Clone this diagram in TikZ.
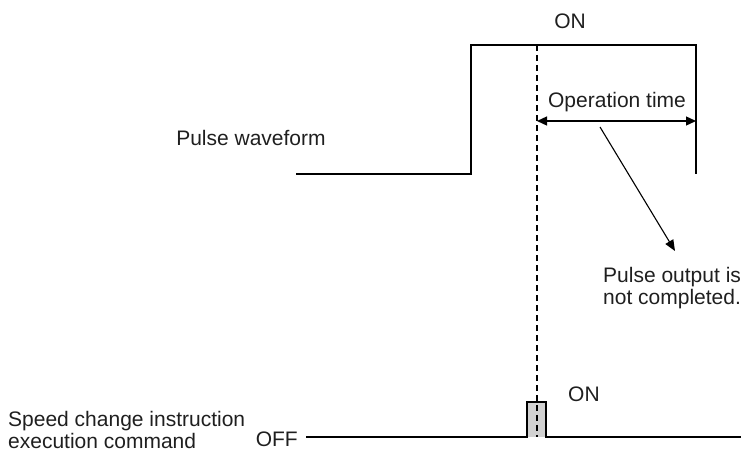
\documentclass[tikz,border=0pt]{standalone}
\usepackage{fontspec}
\setmainfont{Liberation Sans}
\usetikzlibrary{arrows.meta}
\begin{document}
\begin{tikzpicture}[x=1pt,y=-1pt,
  wave/.style={line width=1.3pt, draw=black},
  lbl/.style={font=\fontsize{21}{22}\selectfont, text=black!88, inner sep=0pt},
  dimarrow/.style={line width=1.3pt, {Triangle[length=10pt,width=9pt]}-{Triangle[length=10pt,width=9pt]}},
  pointer/.style={line width=1.1pt, -{Triangle[length=11pt,width=9pt]}},
  guide/.style={line width=1.1pt, dash pattern=on 6pt off 4pt}]
\useasboundingbox (0,0) rectangle (744,452);
% pulse waveform
\coordinate (p0) at (296,174);
\coordinate (p1) at (471,174);
\coordinate (p2) at (471,45);
\coordinate (p3) at (696,45);
\coordinate (p4) at (696,174);
\draw[wave] (p0) -- (p1) -- (p2) -- (p3) -- (p4);
% command signal
\coordinate (c0) at (306,437);
\coordinate (c1) at (527,437);
\coordinate (c2) at (527,402);
\coordinate (c3) at (546,402);
\coordinate (c4) at (546,437);
\coordinate (c5) at (741,437);
\fill[black!18] (c1) rectangle (c3);
\draw[wave] (c0) -- (c1) -- (c2) -- (c3) -- (c4) -- (c5);
% dashed guide
\coordinate (g0) at (537,45);
\coordinate (g1) at (537,437);
\draw[guide] (g0) -- (g1);
% operation time arrow
\coordinate (a0) at (537,121);
\coordinate (a1) at (696,121);
\draw[dimarrow] (a0) -- (a1);
\coordinate (l0) at (600,127);
\coordinate (l1) at (675,251);
\draw[pointer] (l0) -- (l1);
% labels
\node[lbl, anchor=base] (ontop) at (570,29) {ON};
\node[lbl, anchor=base] (optime) at (617,107) {Operation time};
\node[lbl, anchor=base] (pw) at (251,145) {Pulse waveform};
\node[lbl, anchor=base west, align=left] (notc) at (603,304) {Pulse output is\\not completed.};
\node[lbl, anchor=base west] (onbot) at (568,401) {ON};
\node[lbl, anchor=base east] (off) at (298,446) {OFF};
\node[lbl, anchor=base west, align=left] (cmd) at (8,448) {Speed change instruction\\execution command};
\end{tikzpicture}
\end{document}
